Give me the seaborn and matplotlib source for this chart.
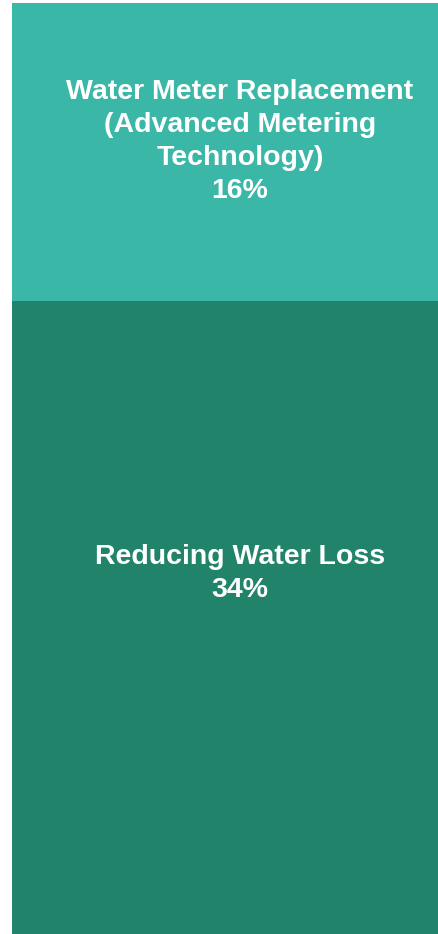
import pandas as pd
import matplotlib
matplotlib.use("Agg")
import matplotlib.pyplot as plt
import seaborn as sns

################ DATA ################
categories = ["Water Meter Replacement\n(Advanced Metering\nTechnology)", "Reducing Water Loss"]
shares = [16, 34]
colors = ["#3bb7a7", "#21836a"]

df = pd.DataFrame({"category": categories, "share": shares})

################ PLOT ################
sns.set_theme(style="white")
plt.rcParams['font.family'] = ['Liberation Sans', 'DejaVu Sans']

fig = plt.figure(figsize=(4.39, 9.34), dpi=100)
ax = fig.add_axes([12 / 439, 0, 1 - 12 / 439, 931 / 934])

# stacked: draw the cumulative total first, then the lower segment on top of it
total = df["share"].sum()
sns.barplot(x=[0], y=[total], color=colors[0], width=1.0, saturation=1,
            linewidth=0, ax=ax)
sns.barplot(x=[0], y=[df["share"].iloc[1]], color=colors[1], width=1.0, saturation=1,
            linewidth=0, ax=ax)

ax.set_xlim(-0.5, 0.5)
ax.set_ylim(0, total)
ax.axis("off")

# segment labels
low = df["share"].iloc[1]
ax.text(0.034, low + df["share"].iloc[0] * 0.535,
        f"{df['category'].iloc[0]}\n{df['share'].iloc[0]}%",
        ha="center", va="center", color="white", fontsize=20.5, fontweight="bold",
        linespacing=1.36)
ax.text(0.034, low * 0.57,
        f"{df['category'].iloc[1]}\n{df['share'].iloc[1]}%",
        ha="center", va="center", color="white", fontsize=20.5, fontweight="bold",
        linespacing=1.36)

fig.savefig("out.png", dpi=100)
